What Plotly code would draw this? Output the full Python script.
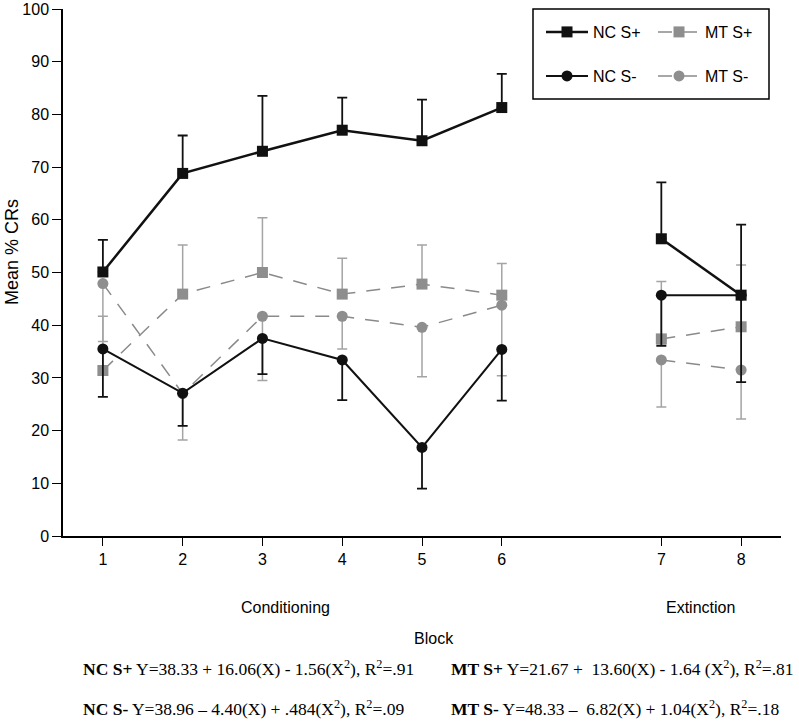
import plotly.graph_objects as go

# ---------------- data ----------------
BLOCKS = [1, 2, 3, 4, 5, 6, 7, 8]
PHASES = ["Conditioning"] * 6 + ["Extinction"] * 2

NC_SPLUS = [50.1, 68.8, 73.0, 77.0, 75.0, 81.3, 56.4, 45.7]
NC_SPLUS_ERR = [6.1, 7.2, 10.5, 6.2, 7.8, 6.4, 10.7, 13.4]

MT_SPLUS = [31.4, 45.9, 50.0, 45.9, 47.8, 45.7, 37.4, 39.7]
MT_SPLUS_ERR = [10.3, 9.3, 10.4, 6.8, 7.4, 6.0, 10.9, 11.7]

NC_SMINUS = [35.5, 27.1, 37.5, 33.4, 16.8, 35.4, 45.7, 45.7]
NC_SMINUS_ERR = [9.1, 6.2, 6.8, 7.6, 7.8, 9.7, 9.6, 16.5]

MT_SMINUS = [47.9, 27.0, 41.7, 41.7, 39.6, 43.8, 33.4, 31.5]
MT_SMINUS_ERR = [11.0, 8.8, 12.2, 6.2, 9.4, 13.4, 8.9, 9.3]

Y_TICKS = list(range(0, 101, 10))

EQUATIONS = [
    ("NC S+", "Y=38.33 + 16.06(X) - 1.56(X<sup>2</sup>), R<sup>2</sup>=.91"),
    ("MT S+", "Y=21.67 +  13.60(X) - 1.64 (X<sup>2</sup>), R<sup>2</sup>=.81"),
    ("NC S-", "Y=38.96 \u2013 4.40(X) + .484(X<sup>2</sup>), R<sup>2</sup>=.09"),
    ("MT S-", "Y=48.33 \u2013  6.82(X) + 1.04(X<sup>2</sup>), R<sup>2</sup>=.18"),
]

# ---------------- layout helpers ----------------
W, H = 799, 723
ML, MR, MT_, MB = 63, 18, 9, 187
PW, PH = W - ML - MR, H - MT_ - MB


def px(xp):
    return (xp - ML) / PW


def py(yp):
    return (H - MB - yp) / PH


# axis position of each block: one empty slot between the two phases
POS = [b if PHASES[i] == "Conditioning" else b + 1 for i, b in enumerate(BLOCKS)]
N_COND = PHASES.count("Conditioning")


def split(vals):
    vals = list(vals)
    return vals[:N_COND] + [None] + vals[N_COND:]


X_SEG = split(POS)
ZEROS = [0] * len(BLOCKS)

BLACK = "#111111"
GRAY_M = "#8e8e8e"
GRAY_E = "#a4a4a4"
GRAY_L = "#8a8a8a"

fig = go.Figure()


def add(name, vals, err, up, color, ecolor, symbol, dash, lw, ew, legend, rank):
    fig.add_trace(go.Scatter(
        x=X_SEG, y=split(vals), name=name, mode="lines+markers",
        connectgaps=False,
        line=dict(color=color if dash is None else GRAY_L, width=lw,
                  dash=dash if dash else "solid"),
        marker=dict(symbol=symbol, size=11, color=color, line=dict(width=0)),
        error_y=dict(type="data", symmetric=False,
                     array=split(err if up else ZEROS),
                     arrayminus=split(ZEROS if up else err),
                     color=ecolor, thickness=ew, width=5),
        legend=legend, legendrank=rank, hoverinfo="skip",
    ))


add("MT S-", MT_SMINUS, MT_SMINUS_ERR, False, GRAY_M, GRAY_E, "circle", "14px,11px", 1.5, 1.5, "legend2", 2)
add("MT S+", MT_SPLUS, MT_SPLUS_ERR, True, GRAY_M, GRAY_E, "square", "14px,11px", 1.5, 1.5, "legend", 2)
add("NC S-", NC_SMINUS, NC_SMINUS_ERR, False, BLACK, BLACK, "circle", None, 2, 1.8, "legend2", 1)
add("NC S+", NC_SPLUS, NC_SPLUS_ERR, True, BLACK, BLACK, "square", None, 2.5, 1.8, "legend", 1)

FONT = "Liberation Sans, Arial, sans-serif"
SERIF = "Liberation Serif, Times New Roman, serif"

annotations = [
    dict(text="Mean % CRs", x=px(12), y=py(252), textangle=-90,
         font=dict(size=18, family=FONT, color="black")),
    dict(text="Conditioning", x=px(285), y=py(607), font=dict(size=16, family=FONT, color="black")),
    dict(text="Extinction", x=px(700), y=py(607), font=dict(size=16, family=FONT, color="black")),
    dict(text="Block", x=px(434), y=py(638), font=dict(size=16, family=FONT, color="black")),
]
eq_pos = [(81, 668), (449, 668), (81, 708), (449, 708)]
for (lab, eq), (ex, ey) in zip(EQUATIONS, eq_pos):
    annotations.append(dict(text="<b>" + lab + "</b> " + eq, x=px(ex), y=py(ey),
                            xanchor="left", font=dict(size=17.5, family=SERIF, color="black")))
for a in annotations:
    a.update(xref="paper", yref="paper", showarrow=False)
    a.setdefault("xanchor", "center")
    a.setdefault("yanchor", "middle")

leg_common = dict(orientation="h", x=px(541), xanchor="left", yanchor="middle",
                  bgcolor="rgba(0,0,0,0)", borderwidth=0,
                  font=dict(size=16, family=FONT, color="black"),
                  itemwidth=42, entrywidth=55, entrywidthmode="pixels", itemclick=False)

fig.update_layout(
    width=W, height=H,
    margin=dict(l=ML, r=MR, t=MT_, b=MB, autoexpand=False),
    paper_bgcolor="white", plot_bgcolor="white",
    showlegend=True,
    legend=dict(y=py(32), **leg_common),
    legend2=dict(y=py(76), **leg_common),
    annotations=annotations,
    shapes=[dict(type="rect", xref="paper", yref="paper",
                 x0=px(533), x1=px(769), y0=py(99), y1=py(9),
                 line=dict(color="black", width=1.5), fillcolor="rgba(0,0,0,0)")],
    xaxis=dict(range=[0.5, max(POS) + 0.5], tickvals=POS, ticktext=[str(b) for b in BLOCKS],
               showgrid=False, zeroline=False, showline=True, linecolor="black", linewidth=2,
               ticks="outside", ticklen=8, tickwidth=1.2, tickcolor="black", automargin=False,
               tickfont=dict(size=16, family=FONT, color="black")),
    yaxis=dict(range=[0, 100], tickvals=Y_TICKS, showgrid=False, zeroline=False,
               showline=True, linecolor="black", linewidth=1.5, automargin=False,
               ticks="outside", ticklen=9, tickwidth=1.2, tickcolor="black",
               tickfont=dict(size=16, family=FONT, color="black")),
)

fig.write_html("out.html", config={"displayModeBar": False},
               post_script="document.body.style.margin='0px';")
